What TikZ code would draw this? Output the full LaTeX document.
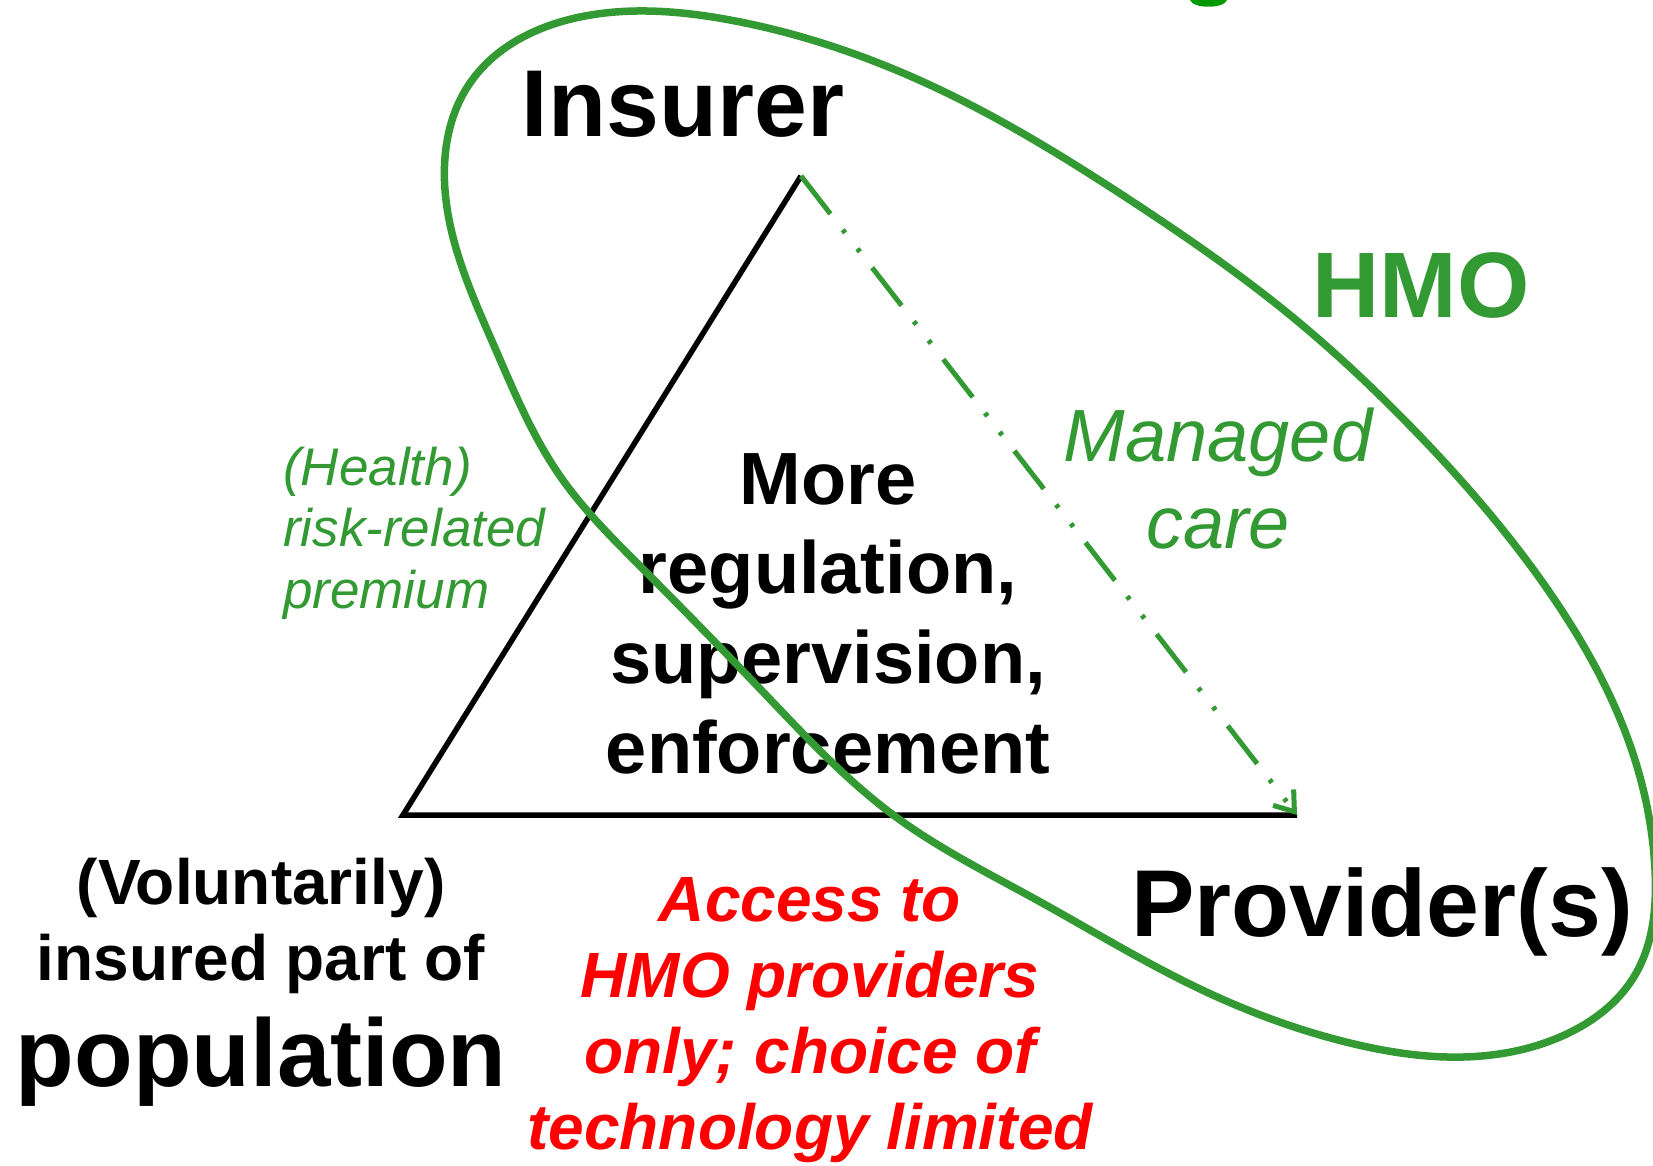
\documentclass[tikz,border=0pt]{standalone}
\usepackage{fontspec}
\setmainfont{Liberation Sans}
\usepackage{tikz}
\usetikzlibrary{arrows.meta}
\usetikzlibrary{hobby}
\definecolor{hmogreen}{RGB}{51,153,51}
\definecolor{titlegreen}{RGB}{0,153,0}

\begin{document}
\begin{tikzpicture}[x=1pt,y=-1pt]
      \tikzset{
         bigword/.style = {
            inner sep=0, anchor=base,
            font=\fontsize{95}{114}\selectfont\bfseries
         },
         midtext/.style = {
            inner sep=0, anchor=base, align=center,
            font=\fontsize{74}{89.6}\selectfont\bfseries
         },
         greennote/.style = {
            inner sep=0, text=hmogreen,
            font=\fontsize{53}{61.5}\selectfont\itshape
         },
         poptext/.style = {
            inner sep=0, anchor=base, align=center,
            font=\fontsize{64}{76}\selectfont\bfseries
         },
         accesstext/.style = {
            inner sep=0, anchor=base, align=center, text=red,
            font=\fontsize{64}{76}\selectfont\bfseries\itshape
         }
      }
      \useasboundingbox (0,0) rectangle (1653,1166);
      \coordinate (apex) at (801,176) ;
      \coordinate (popcorner) at (403,815) ;
      \coordinate (provcorner) at (1297,815) ;
      \node[bigword] (insurer) at (683,137) {Insurer} ;
      \node[bigword, text=hmogreen, font=\fontsize{93}{110}\selectfont\bfseries] (hmo) at (1421,317) {HMO} ;
      \node[bigword] (provider) at (1382,936) {Provider(s)} ;
      \node[midtext] (rules) at (828,773) {More\\regulation,\\supervision,\\enforcement} ;
      \node[greennote, anchor=base west, align=left] (premium) at (283,608) {(Health)\\risk-related\\premium} ;
      \node[greennote, anchor=base, align=center, font=\fontsize{74}{87}\selectfont\itshape] (managed) at (1218,548) {Managed\\care} ;
      \node[poptext] (insured) at (261,980) {(Voluntarily)\\insured part of} ;
      \node[bigword, font=\fontsize{96}{110}\selectfont\bfseries] (population) at (261,1086) {population} ;
      \node[accesstext] (access) at (810,1149) {Access to\\HMO providers\\only; choice of\\technology limited} ;
      \draw [line width=5.5pt] (provcorner) -- (popcorner) -- (apex) ;
      \draw [hmogreen, line width=5pt, dash pattern=on 48pt off 20pt on 4pt off 20pt on 4pt off 20pt,
             -{Straight Barb[length=18pt,width=26pt]}] (apex) -- (provcorner) ;
      % HMO boundary
      \draw [hmogreen, line width=7.5pt, use Hobby shortcut, closed=true]
         (445,190) .. (470,83) .. (580,17) .. (730,20) .. (930,85) .. (1130,200)
         .. (1290,315) .. (1417,433) .. (1550,593) .. (1635,760) .. (1655,870)
         .. (1635,975) .. (1560,1037) .. (1463,1057) .. (1350,1043) .. (1200,989)
         .. (1035,899) .. (896,817) .. (765,694) .. (643,569) .. (560,476) .. (495,348) ;
      \fill [titlegreen] (1190,0) .. controls (1193,9) and (1224,9) .. (1227,0) -- cycle ;
    \end{tikzpicture}
\end{document}
